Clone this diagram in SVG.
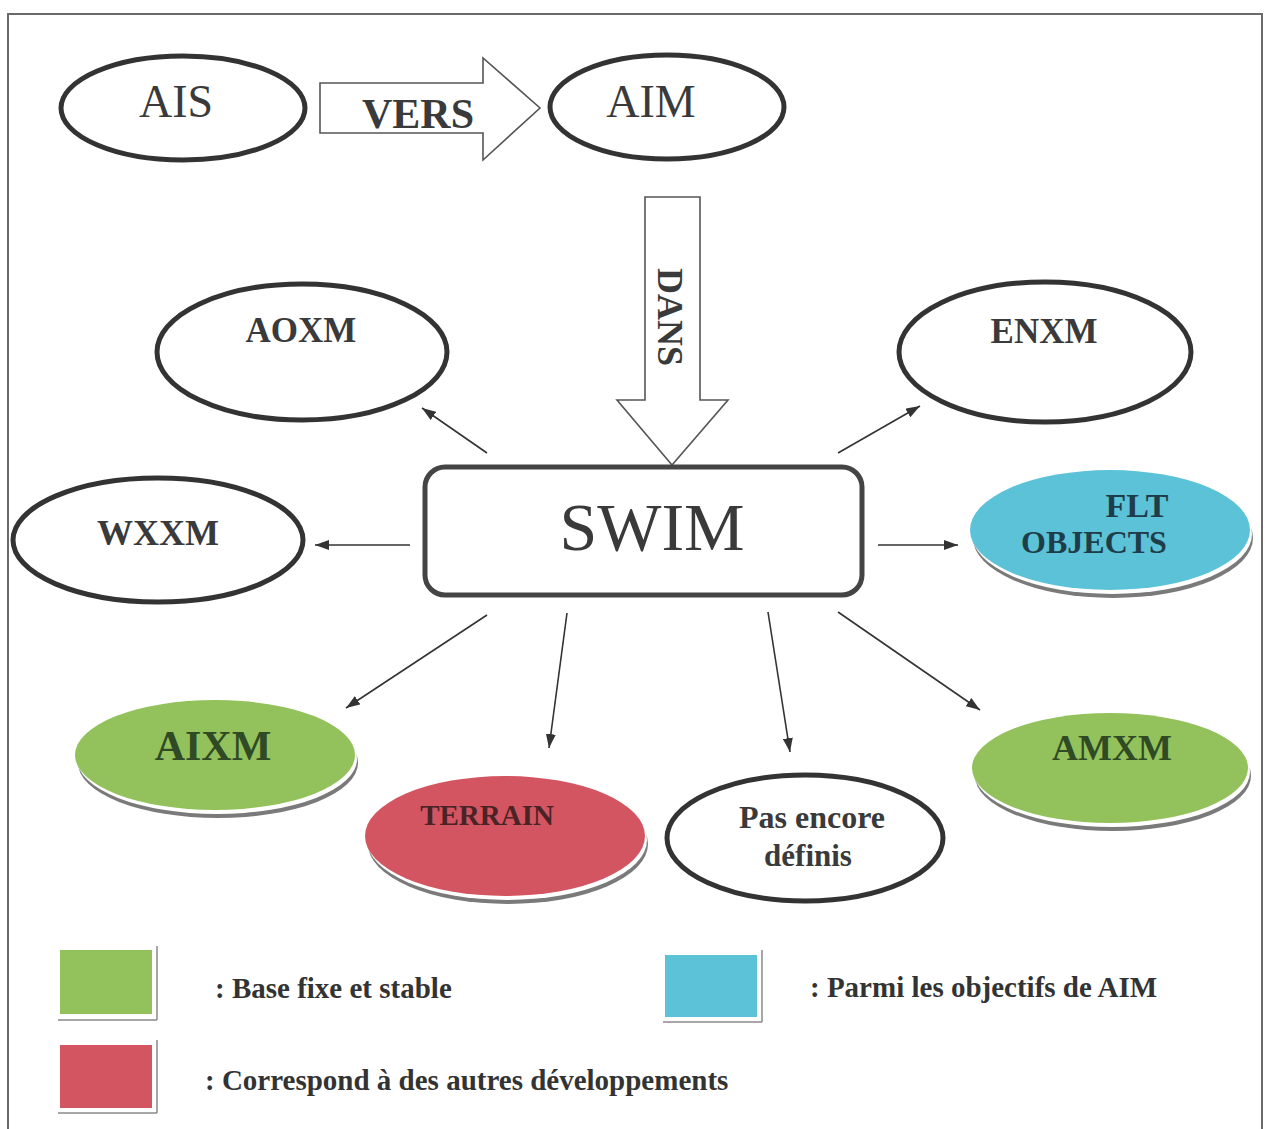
<svg xmlns="http://www.w3.org/2000/svg" width="1265" height="1129" viewBox="0 0 1265 1129">
  <style>
    .frame { fill: none; stroke: #6a6a6a; stroke-width: 2; }
    .oval { fill: #ffffff; stroke: #333333; stroke-width: 5; }
    .box { fill: #ffffff; stroke: #444444; stroke-width: 5; }
    .big-arrow { fill: #ffffff; stroke: #555555; stroke-width: 1.6; stroke-linejoin: miter; }
    .link { stroke: #333333; stroke-width: 1.6; fill: none; marker-end: url(#tip); }
    .shade { fill: #7a7a7a; }
    .gap { fill: #ffffff; }
    .green { fill: #93c25c; }
    .cyan { fill: #5cc2d8; }
    .red { fill: #d25561; }
    .serif { font-family: "Liberation Serif", "Times New Roman", serif; }
    .plain { font-weight: normal; fill: #3a3a3a; text-anchor: middle; }
    .bold { font-weight: bold; fill: #3a3a3a; text-anchor: middle; }
    .gtext { font-weight: bold; fill: #2f4a24; text-anchor: middle; }
    .ctext { font-weight: bold; fill: #1f3d48; text-anchor: middle; }
    .rtext { font-weight: bold; fill: #4a2326; text-anchor: middle; }
    .legend { font-weight: bold; fill: #333333; font-size: 29px; }
    .edge { stroke: #8a8a8a; stroke-width: 1.5; }
  </style>
  <defs>
    <marker id="tip" viewBox="0 0 14 10" refX="14" refY="5" markerWidth="14" markerHeight="10" markerUnits="userSpaceOnUse" orient="auto">
      <path d="M0,0 L14,5 L0,10 Z" fill="#333333"/>
    </marker>
  </defs>

  <rect width="1265" height="1129" fill="#ffffff"/>
  <!-- page frame -->
  <path class="frame" d="M8,1129 L8,14 L1262,14 L1262,1129"/>

  <!-- top row: AIS -> AIM -->
  <g id="ais">
    <ellipse class="oval" cx="183" cy="108" rx="122" ry="52"/>
    <text class="serif plain" x="176" y="117" font-size="46">AIS</text>
  </g>
  <g id="vers">
    <polygon class="big-arrow" points="320,83 483,83 483,58 540,108 483,160 483,133 320,133"/>
    <text class="serif bold" x="418" y="128" font-size="42">VERS</text>
  </g>
  <g id="aim">
    <ellipse class="oval" cx="667" cy="107" rx="117" ry="52"/>
    <text class="serif plain" x="651" y="117" font-size="46">AIM</text>
  </g>
  <g id="dans">
    <polygon class="big-arrow" points="645,197 700,197 700,400 728,400 672,465 617,400 645,400"/>
    <text class="serif bold" font-size="36" transform="translate(670,317) rotate(90)" x="0" y="12">DANS</text>
  </g>

  <!-- centre -->
  <g id="swim">
    <rect class="box" x="425" y="467" width="437" height="128" rx="20" ry="20"/>
    <text class="serif plain" x="652" y="550" font-size="68">SWIM</text>
  </g>

  <!-- exchange models -->
  <g id="aoxm">
    <ellipse class="oval" cx="302" cy="352" rx="145" ry="68"/>
    <text class="serif bold" x="301" y="342" font-size="35">AOXM</text>
  </g>
  <g id="enxm">
    <ellipse class="oval" cx="1045" cy="352" rx="146" ry="70"/>
    <text class="serif bold" x="1044" y="343" font-size="35">ENXM</text>
  </g>
  <g id="wxxm">
    <ellipse class="oval" cx="158" cy="540" rx="145" ry="62"/>
    <text class="serif bold" x="158" y="545" font-size="36">WXXM</text>
  </g>
  <g id="flt-objects">
    <ellipse class="shade" cx="1113" cy="538" rx="140" ry="60"/>
    <ellipse class="gap" cx="1112" cy="534" rx="140" ry="60"/>
    <ellipse class="cyan" cx="1110" cy="530" rx="140" ry="60"/>
    <text class="serif ctext" x="1137" y="517" font-size="34">FLT</text>
    <text class="serif ctext" x="1094" y="553" font-size="32">OBJECTS</text>
  </g>
  <g id="aixm">
    <ellipse class="shade" cx="218" cy="763" rx="140" ry="55"/>
    <ellipse class="gap" cx="217" cy="759" rx="140" ry="55"/>
    <ellipse class="green" cx="215" cy="755" rx="140" ry="55"/>
    <text class="serif gtext" x="213" y="760" font-size="42">AIXM</text>
  </g>
  <g id="terrain">
    <ellipse class="shade" cx="508" cy="844" rx="140" ry="60"/>
    <ellipse class="gap" cx="507" cy="840" rx="140" ry="60"/>
    <ellipse class="red" cx="505" cy="836" rx="140" ry="60"/>
    <text class="serif rtext" x="487" y="825" font-size="29">TERRAIN</text>
  </g>
  <g id="pas-encore-definis">
    <ellipse class="oval" cx="805" cy="838" rx="138" ry="63"/>
    <text class="serif bold" x="812" y="828" font-size="32">Pas encore</text>
    <text class="serif bold" x="808" y="866" font-size="31">définis</text>
  </g>
  <g id="amxm">
    <ellipse class="shade" cx="1113" cy="776" rx="138" ry="55"/>
    <ellipse class="gap" cx="1112" cy="772" rx="138" ry="55"/>
    <ellipse class="green" cx="1110" cy="768" rx="138" ry="55"/>
    <text class="serif gtext" x="1112" y="760" font-size="36">AMXM</text>
  </g>

  <!-- connectors from SWIM -->
  <g id="connectors">
    <line class="link" x1="487" y1="453" x2="422" y2="408"/>
    <line class="link" x1="410" y1="545" x2="315" y2="545"/>
    <line class="link" x1="838" y1="453" x2="920" y2="406"/>
    <line class="link" x1="878" y1="545" x2="958" y2="545"/>
    <line class="link" x1="487" y1="615" x2="346" y2="708"/>
    <line class="link" x1="567" y1="613" x2="549" y2="748"/>
    <line class="link" x1="768" y1="612" x2="790" y2="752"/>
    <line class="link" x1="838" y1="612" x2="980" y2="710"/>
  </g>

  <!-- legend -->
  <g id="legend-green">
    <rect class="green" x="60" y="950" width="92" height="64"/>
    <line class="edge" x1="157" y1="946" x2="157" y2="1020"/>
    <line class="edge" x1="58" y1="1020" x2="157" y2="1020"/>
    <text class="serif legend" x="215" y="998">: Base fixe et stable</text>
  </g>
  <g id="legend-cyan">
    <rect class="cyan" x="665" y="955" width="92" height="62"/>
    <line class="edge" x1="762" y1="950" x2="762" y2="1022"/>
    <line class="edge" x1="663" y1="1022" x2="762" y2="1022"/>
    <text class="serif legend" x="810" y="997">: Parmi les objectifs de AIM</text>
  </g>
  <g id="legend-red">
    <rect class="red" x="60" y="1045" width="92" height="63"/>
    <line class="edge" x1="157" y1="1040" x2="157" y2="1113"/>
    <line class="edge" x1="58" y1="1113" x2="157" y2="1113"/>
    <text class="serif legend" x="205" y="1090">: Correspond à des autres développements</text>
  </g>
</svg>
